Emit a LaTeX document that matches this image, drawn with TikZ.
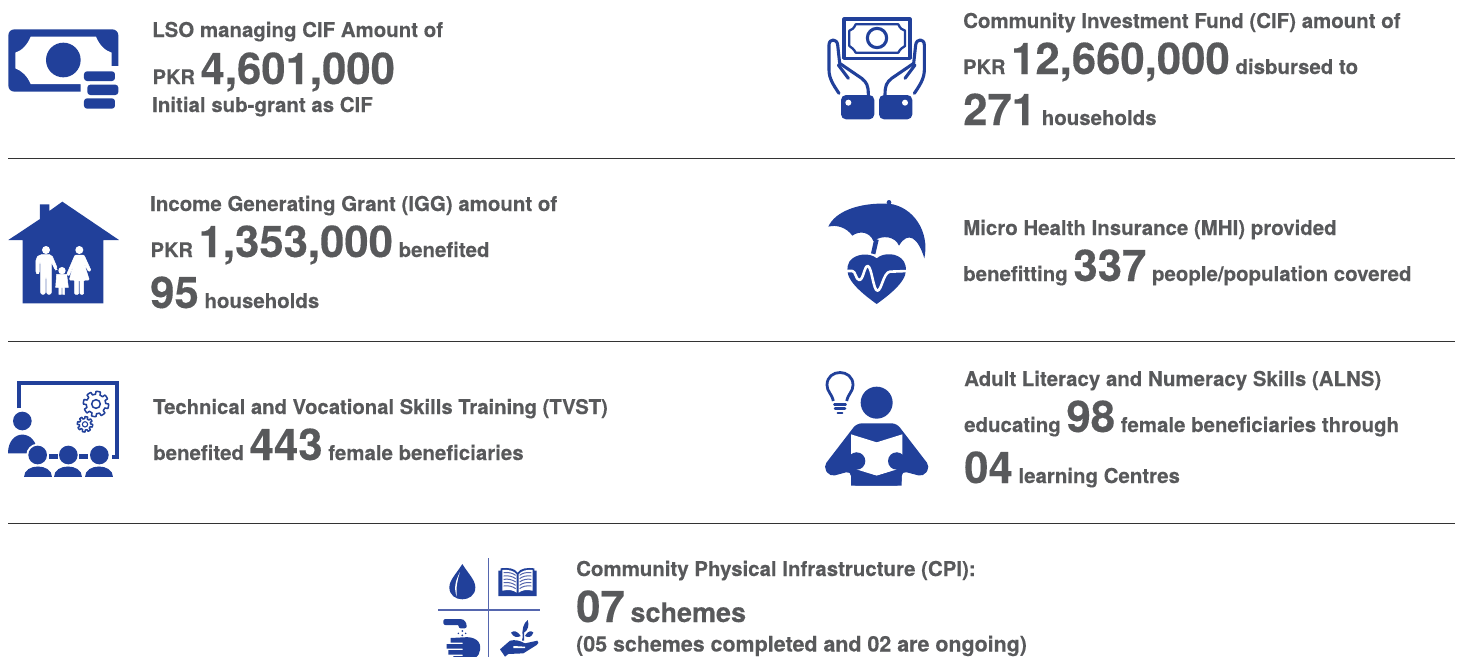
\documentclass[tikz,border=0pt]{standalone}
\usepackage{fontspec}
\setmainfont[BoldFeatures={FakeBold=0.25}]{TeX Gyre Heros}
\definecolor{ink}{HTML}{58595B}
\definecolor{brand}{HTML}{21409A}
\definecolor{softbrand}{HTML}{5566AE}
\newcommand{\sm}{\fontsize{20.45}{20}\selectfont\bfseries}
\newcommand{\pk}{\fontsize{20}{18}\selectfont\bfseries}
\newcommand{\bg}{\fontsize{43.7}{44}\selectfont\bfseries}
\tikzset{
 txt/.style={anchor=base west,inner sep=0pt,text=ink,font=\sm},
 rule/.style={draw=black!80,line width=0.9pt},
 ic/.style={fill=brand,draw=none},
 ol/.style={draw=brand,fill=none,line width=3.1pt,line join=round,line cap=round},
 wh/.style={fill=white,draw=none},
 wp/.style={fill=white,draw=white,line width=0.5pt},
 wl/.style={draw=white,fill=none,line cap=round,line join=round}
}
\newcommand{\gearshape}[4]{% cx cy outer inner
 \draw[draw=brand,line width=1.5pt,line join=round] plot[variable=\a,domain=0:360,samples=121] ({#1+(#4+(#3-#4)*(1+sign(sin(8*\a+10)))/2)*cos(\a)},{#2+(#4+(#3-#4)*(1+sign(sin(8*\a+10)))/2)*sin(\a)}) -- cycle;
}
\newcommand{\handshape}{%
 \draw[ol] (72,250) .. controls (55,225) and (42,205) .. (42,180) -- (42,105) .. controls (42,85) and (66,85) .. (68,105) -- (74,160) -- (140,205) .. controls (155,218) and (160,225) .. (160,255);
 \draw[ol] (70,165) -- (100,205);
}
\begin{document}
\begin{tikzpicture}[x=1pt,y=-1pt]
\useasboundingbox (0,0) rectangle (1458,656);
\clip (0,0) rectangle (1458,656);
% rules
\coordinate (r1a) at (8,158); \coordinate (r1b) at (1455,158);
\coordinate (r2a) at (8,341); \coordinate (r2b) at (1455,341);
\coordinate (r3a) at (8,523); \coordinate (r3b) at (1455,523);
\draw[rule] (r1a) -- (r1b);
\draw[rule] (r2a) -- (r2b);
\draw[rule] (r3a) -- (r3b);
% text
\node[txt] (a1) at (152,37) {LSO managing CIF Amount of};
\node[txt] (a2) at (152.5,84) {{\pk PKR} {\bg 4,601,000}};
\node[txt] (a3) at (152,112) {Initial sub-grant as CIF};
\node[txt] (b1) at (963,28) {Community Investment Fund (CIF) amount of};
\node[txt] (b2) at (963,74) {{\pk PKR} {\bg 12,660,000} disbursed to};
\node[txt] (b3) at (963,125) {{\bg 271} households};
\node[txt] (c1) at (150,211) {Income Generating Grant (IGG) amount of};
\node[txt] (c2) at (150.5,257) {{\pk PKR} {\bg 1,353,000} benefited};
\node[txt] (c3) at (150,308) {{\bg 95} households};
\node[txt] (d1) at (963,235) {Micro Health Insurance (MHI) provided};
\node[txt] (d2) at (963,281) {benefitting {\bg 337} people/population covered};
\node[txt] (e1) at (153,414) {\fontsize{20.27}{20}\selectfont\bfseries Technical and Vocational Skills Training (TVST)};
\node[txt] (e2) at (153,460) {benefited {\bg 443} female beneficiaries};
\node[txt] (f1) at (964,386) {Adult Literacy and Numeracy Skills (ALNS)};
\node[txt] (f2) at (964,432) {educating {\bg 98} female beneficiaries through};
\node[txt] (f3) at (964,483) {{\bg 04} learning Centres};
\node[txt] (g1) at (576,576) {Community Physical Infrastructure (CPI):};
\node[txt] (g2) at (576,622) {{\bg 07} {\fontsize{27}{27}\selectfont\bfseries schemes}};
\node[txt] (g3) at (576,651.5) {\fontsize{21.4}{22}\selectfont\bfseries (05 schemes completed and 02 are ongoing)};
% icon 1: banknote
\begin{scope}[shift={(0,10)},scale=1/3]
 \fill[ic,rounded corners=6pt] (25,58) rectangle (355,245);
 \fill[wh] (92,80) -- (288,80) .. controls (298,105) and (315,122) .. (335,128) -- (335,168) -- (360,168) -- (360,250) -- (242,250) -- (242,222) -- (92,222) .. controls (82,198) and (65,182) .. (46,175) -- (46,128) .. controls (65,122) and (82,105) .. (92,80) -- cycle;
 \fill[ic] (190,150) circle (52);
 \fill[ic,rounded corners=3pt] (252,184) rectangle (345,213);
 \fill[ic,rounded corners=3pt] (262,224) rectangle (355,255);
 \fill[ic,rounded corners=3pt] (252,265) rectangle (345,296);
\end{scope}
% icon 2: hands with banknote
\begin{scope}[shift={(815,10)},scale=1/3]
 \draw[ol] (87,27) rectangle (285,145);
 \draw[ol,line width=2.3pt] (122,43) -- (250,43) .. controls (255,55) and (262,60) .. (270,62) -- (270,108) .. controls (262,112) and (255,118) .. (250,128) -- (122,128) .. controls (117,118) and (110,112) .. (103,108) -- (103,62) .. controls (110,60) and (117,55) .. (122,43) -- cycle;
 \draw[ol] (186,84) circle (29);
 \handshape
 \begin{scope}[shift={(370,0)},xscale=-1]\handshape\end{scope}
 \fill[ic,rounded corners=5pt] (78,255) rectangle (178,328);
 \fill[ic,rounded corners=5pt] (192,255) rectangle (292,328);
 \fill[wh] (100,278) circle (9);
 \fill[wh] (270,278) circle (9);
\end{scope}
% icon 3: house and family
\begin{scope}[shift={(0,195)},scale=1/3]
 \fill[ic] (25,135) -- (120,72) -- (120,28) -- (148,28) -- (148,48) -- (187,20) -- (357,135) -- (310,135) -- (310,325) -- (68,325) -- (68,135) -- cycle;
 \fill[wh] (138,165) circle (12);
 \fill[wh] (238,165) circle (12);
 \fill[wh] (186,227) circle (11);
 \fill[wp,rounded corners=2pt] (108,236) -- (108,190) -- (118,179) -- (155,179) -- (173,222) -- (166,226) -- (154,200) -- (154,298) -- (140,298) -- (140,245) -- (136,245) -- (136,298) -- (122,298) -- (122,200) -- (118,200) -- (118,236) -- cycle;
 \fill[wp,rounded corners=1pt] (225,180) -- (252,180) -- (273,226) -- (266,230) -- (252,205) -- (268,255) -- (251,255) -- (251,298) -- (240,298) -- (240,255) -- (236,255) -- (236,298) -- (224,298) -- (224,255) -- (208,255) -- (222,205) -- (207,243) -- (200,238) -- cycle;
 \fill[wp] (170,238) -- (200,238) -- (205,277) -- (194,277) -- (194,298) -- (188,298) -- (188,277) -- (184,277) -- (184,298) -- (177,298) -- (177,277) -- (167,277) -- cycle;
\end{scope}
% icon 4: umbrella and heart
\begin{scope}[shift={(815,195)},scale=1/3]
 \fill[ic] (222,22) circle (7);
 \fill[ic] (40,95) .. controls (60,50) and (130,22) .. (222,26) .. controls (295,35) and (345,110) .. (328,190) .. controls (310,130) and (280,105) .. (252,152) .. controls (240,125) and (205,118) .. (175,138) .. controls (165,112) and (135,105) .. (112,122) .. controls (95,98) and (65,88) .. (40,95) -- cycle;
 \fill[ic] (178,130) -- (191,135) -- (181,178) -- (168,175) -- cycle;
 \fill[ic] (185,190) .. controls (165,172) and (120,175) .. (103,200) .. controls (85,235) and (105,270) .. (185,327) .. controls (265,270) and (285,235) .. (267,200) .. controls (250,172) and (205,172) .. (185,190) -- cycle;
 \draw[wl,line width=2.6pt] (92,228) -- (112,228) .. controls (122,228) and (122,255) .. (133,255) .. controls (145,255) and (148,213) .. (158,213) .. controls (170,213) and (175,287) .. (187,287) .. controls (200,287) and (205,232) .. (225,230) -- (278,228);
\end{scope}
% icon 5: classroom
\begin{scope}[shift={(0,375)},scale=1/3]
 \draw[draw=brand,line width=4pt] (58,100) -- (58,24) -- (350,24) -- (350,245) -- (335,245);
 \gearshape{288}{87}{38}{29}
 \draw[draw=brand,line width=1.5pt] (288,87) circle (13);
 \gearshape{255}{148}{23}{17}
 \draw[draw=brand,line width=1.1pt] (255,148) circle (8);
 \fill[ic] (67,138) circle (28);
 \fill[ic] (24,235) .. controls (24,160) and (110,160) .. (112,235) -- cycle;
 \fill[wh] (113,240) circle (34);
 \fill[ic] (147,237) rectangle (175,252);
 \fill[ic] (237,237) rectangle (265,252);
 \foreach \c in {113,205,298}{
  \fill[ic] (\c,240) circle (28);
  \fill[ic] (\c-42,306) .. controls (\c-42,265) and (\c+42,265) .. (\c+42,306) -- cycle;
 }
\end{scope}
% icon 6: reader
\begin{scope}[shift={(815,365)},scale=1/3]
 \draw[ol,line width=2.8pt,line cap=butt] (55,108) .. controls (50,85) and (36,80) .. (36,60) .. controls (36,10) and (114,10) .. (114,60) .. controls (114,80) and (100,85) .. (95,108);
 \draw[draw=brand,line width=2.5pt,line cap=round] (58,118) -- (92,118);
 \draw[draw=brand,line width=2.5pt,line cap=round] (60,131) -- (90,131);
 \draw[draw=brand,line width=2.2pt,line cap=round] (68,145) -- (82,145);
 \fill[ic] (185,113) circle (48);
 \fill[ic,rounded corners=5pt] (125,175) -- (245,175) -- (345,305) -- (325,335) -- (260,318) -- (260,362) -- (108,362) -- (108,318) -- (45,335) -- (25,305) -- cycle;
 \fill[wh] (108,208) -- (185,232) -- (262,208) -- (262,308) -- (185,332) -- (108,308) -- cycle;
 \fill[ic] (125,288) circle (26);
 \fill[ic] (245,288) circle (26);
 \fill[ic] (60,290) -- (125,262) -- (125,314) -- (60,325) -- cycle;
 \fill[ic] (310,290) -- (245,262) -- (245,314) -- (310,325) -- cycle;
 \fill[ic] (108,312) -- (108,362) -- (260,362) -- (260,312) -- (185,333) -- cycle;
\end{scope}
% icon 7: infrastructure
\begin{scope}[shift={(430,550)},scale=1/3]
 \draw[draw=softbrand,line width=1.1pt] (176,25) -- (176,320);
 \draw[draw=softbrand,line width=1.1pt] (25,180) -- (330,180);
 % drop
 \fill[ic] (97,42) .. controls (80,70) and (58,90) .. (58,112) .. controls (58,160) and (136,160) .. (136,112) .. controls (136,90) and (114,70) .. (97,42) -- cycle;
 \fill[wh] (90,66) .. controls (78,90) and (70,110) .. (80,140) .. controls (78,110) and (82,90) .. (90,66) -- cycle;
 % book
 \fill[ic] (205,62) -- (212,62) -- (212,55) .. controls (235,52) and (255,55) .. (263,68) .. controls (271,55) and (292,52) .. (313,55) -- (313,62) -- (320,62) -- (320,138) -- (205,138) -- cycle;
 \fill[wh] (217,60) .. controls (235,58) and (252,62) .. (260,73) -- (260,128) .. controls (250,120) and (235,118) .. (217,122) -- cycle;
 \fill[wh] (308,60) .. controls (290,58) and (274,62) .. (266,73) -- (266,128) .. controls (276,120) and (290,118) .. (308,122) -- cycle;
 \foreach \yy in {68,78,88,98,108}{
  \draw[draw=softbrand,line width=1pt] (221,\yy) .. controls (235,\yy-2) and (248,\yy+1) .. (257,\yy+8);
  \draw[draw=softbrand,line width=1pt] (304,\yy) .. controls (290,\yy-2) and (277,\yy+1) .. (269,\yy+8);
 }
 % tap and hand
 \fill[ic,rounded corners=2pt] (40,207) -- (85,207) .. controls (105,207) and (110,220) .. (110,235) -- (86,235) .. controls (86,228) and (84,225) .. (78,225) -- (40,225) -- cycle;
 \fill[ic] (97,243) circle (3);
 \fill[ic] (97,256) circle (3);
 \fill[ic] (107,250) circle (2.5);
 \fill[ic] (85,250) circle (2.5);
 \fill[ic] (100,262) .. controls (135,258) and (155,275) .. (150,300) .. controls (147,320) and (135,330) .. (110,330) -- (70,330) -- (70,318) -- (98,318) -- (98,314) -- (55,314) -- (55,300) -- (98,300) -- (98,296) -- (50,296) -- (50,282) -- (98,282) -- (98,278) -- (62,278) -- (62,264) -- cycle;
 % plant and hand
 \fill[ic] (210,298) -- (240,272) .. controls (255,268) and (270,272) .. (285,280) -- (322,272) .. controls (328,275) and (325,282) .. (320,285) -- (280,310) -- (235,312) -- (225,320) -- cycle;
 \fill[wh] (250,288) -- (285,290) -- (285,294) -- (250,294) -- cycle;
 \fill[ic] (278,262) .. controls (275,240) and (280,220) .. (293,210) .. controls (298,225) and (295,240) .. (282,248) -- (282,272) -- (276,272) -- cycle;
 \fill[ic] (272,258) .. controls (260,240) and (250,242) .. (243,248) .. controls (250,262) and (262,264) .. (272,258) -- cycle;
 \fill[ic] (285,258) .. controls (295,240) and (305,242) .. (310,248) .. controls (305,262) and (295,264) .. (285,258) -- cycle;
\end{scope}
\end{tikzpicture}
\end{document}
